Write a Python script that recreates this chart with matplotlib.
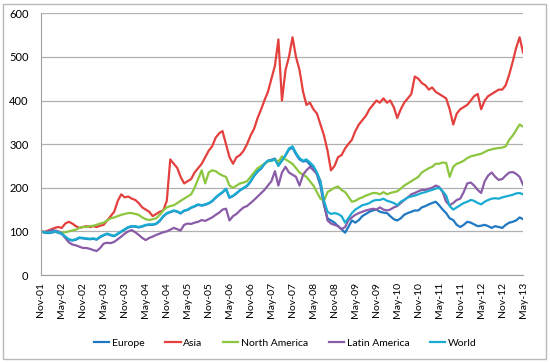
import matplotlib
matplotlib.use('Agg')
import matplotlib.pyplot as plt
import matplotlib.dates as mdates
from matplotlib.patches import Rectangle
import pandas as pd

# monthly index levels, Nov-01 .. May-13
months = pd.date_range('2001-11-01', periods=139, freq='MS')

europe = [100, 97, 96, 97, 99, 97, 94, 87, 81, 79, 81, 85,
          84, 83, 82, 83, 81, 87, 91, 94, 91, 89, 94, 99,
          104, 109, 111, 111, 109, 111, 114, 115, 115, 117, 124, 134,
          141, 144, 147, 145, 141, 147, 149, 154, 157, 161, 159, 161,
          164, 169, 177, 184, 189, 197, 177, 181, 187, 194, 199, 204,
          214, 227, 237, 244, 254, 262, 264, 267, 252, 263, 274, 288,
          292, 277, 265, 260, 262, 253, 247, 230, 205, 160, 130, 125,
          120, 112, 105, 97, 110, 125, 120, 126, 135, 140, 145, 148,
          150, 145, 143, 142, 135, 128, 125, 130, 138, 142, 145, 148,
          148, 155, 158, 162, 165, 168, 160, 150, 142, 130, 126, 115,
          110, 115, 122, 120, 116, 112, 113, 115, 112, 108, 112, 110,
          108, 115, 120, 122, 125, 132, 128]

asia = [100, 99, 102, 105, 108, 110, 108, 118, 122, 118, 112, 108,
        110, 112, 110, 112, 110, 113, 115, 125, 135, 145, 170, 185,
        178, 180, 175, 172, 165, 155, 150, 145, 135, 140, 145, 148,
        170, 265, 255, 245, 225, 210, 215, 220, 235, 245, 255, 270,
        285, 295, 315, 325, 330, 300, 270, 255, 270, 275, 285, 300,
        320, 335, 360, 380, 400, 420, 450, 480, 540, 400, 470, 500,
        545, 500, 470, 420, 390, 395, 380, 370, 345, 320, 285, 240,
        250, 270, 275, 290, 300, 310, 330, 345, 355, 365, 380, 390,
        400, 395, 405, 395, 400, 385, 360, 380, 395, 405, 415, 455,
        450, 440, 435, 425, 430, 420, 415, 410, 405, 380, 345, 370,
        380, 385, 390, 400, 410, 415, 380, 400, 410, 415, 420, 425,
        425, 435, 460, 490, 520, 545, 510]

north_america = [100, 98, 100, 102, 100, 98, 97, 98, 100, 102, 104, 108,
                 110, 110, 112, 113, 115, 118, 120, 125, 130, 132, 135, 138,
                 140, 142, 142, 140, 138, 132, 128, 126, 128, 130, 138, 148,
                 155, 158, 160, 165, 170, 175, 180, 185, 200, 220, 240, 210,
                 235, 240, 238, 232, 228, 225, 205, 200, 205, 210, 212, 215,
                 225, 235, 245, 250, 255, 260, 262, 265, 260, 272, 265, 260,
                 255, 245, 235, 230, 225, 215, 205, 190, 175, 170, 190, 195,
                 200, 203, 195, 190, 180, 168, 170, 175, 178, 182, 185, 188,
                 188, 185, 190, 185, 188, 190, 192, 198, 205, 210, 215, 220,
                 225, 235, 240, 245, 248, 255, 255, 258, 257, 225, 248, 255,
                 258, 262, 268, 272, 274, 276, 278, 282, 286, 288, 290, 291,
                 292, 295, 310, 320, 332, 345, 340]

latin_america = [100, 98, 100, 103, 102, 100, 95, 85, 75, 70, 68, 65,
                 62, 62, 60, 57, 55, 62, 72, 74, 73, 76, 82, 88,
                 95, 100, 103, 98, 92, 85, 80, 85, 88, 92, 95, 98,
                 100, 104, 108, 105, 102, 115, 118, 117, 120, 122, 126, 124,
                 128, 132, 138, 143, 150, 152, 125, 135, 140, 148, 155, 158,
                 165, 172, 180, 188, 195, 205, 215, 238, 205, 235, 248, 235,
                 230, 225, 205, 230, 240, 248, 240, 232, 215, 165, 125, 118,
                 115, 112, 105, 110, 125, 132, 138, 142, 145, 148, 150, 152,
                 150, 155, 150, 148, 150, 155, 158, 165, 172, 178, 185, 188,
                 192, 195, 195, 198, 200, 205, 202, 190, 168, 160, 165, 172,
                 175, 190, 210, 212, 205, 195, 188, 215, 228, 235, 225, 218,
                 220, 228, 235, 236, 232, 225, 207]

world = [100, 98, 97, 98, 100, 98, 95, 88, 82, 80, 82, 86,
         85, 84, 83, 84, 82, 88, 92, 95, 92, 90, 95, 100,
         105, 110, 112, 112, 110, 112, 115, 116, 116, 118, 125, 135,
         142, 145, 148, 146, 142, 148, 150, 155, 158, 162, 160, 162,
         165, 170, 178, 185, 190, 198, 178, 182, 188, 195, 200, 205,
         215, 228, 238, 245, 255, 262, 262, 265, 250, 262, 275, 290,
         295, 280, 268, 262, 265, 258, 250, 235, 215, 170, 145, 140,
         142, 140, 135, 120, 130, 142, 150, 155, 160, 162, 165, 170,
         172, 172, 175, 170, 168, 165, 160, 168, 172, 178, 180, 182,
         185, 188, 190, 193, 195, 198, 200, 192, 182, 158, 150, 155,
         160, 165, 168, 172, 170, 165, 162, 168, 172, 175, 176, 175,
         178, 180, 182, 184, 187, 188, 185]

series = [('Europe', europe, '#1f78c1'),
          ('Asia', asia, '#e4403d'),
          ('North America', north_america, '#8cc63f'),
          ('Latin America', latin_america, '#8a5ca8'),
          ('World', world, '#1aabd2')]

plt.rcParams['font.family'] = ['Lato', 'DejaVu Sans']

fig = plt.figure(figsize=(5.5, 3.63), dpi=100)
ax = fig.add_axes([0.0745, 0.2424, 0.8765, 0.721])

for name, vals, col in series:
    ax.plot(months, vals, color=col, lw=1.6, label=name)

ax.set_ylim(0, 600)
ax.set_yticks(range(0, 601, 100))
ax.set_xlim(months[0], months[-1])
ax.xaxis.set_major_locator(mdates.MonthLocator(bymonth=[5, 11]))
ax.xaxis.set_major_formatter(mdates.DateFormatter('%b-%y'))
ax.tick_params(axis='x', labelrotation=90, labelsize=7.5, length=0, pad=5)
ax.tick_params(axis='y', labelsize=8, length=0, pad=9)
ax.grid(axis='y', color='#b0b0b0', lw=0.9)
ax.set_axisbelow(True)
for s in ['top', 'right']:
    ax.spines[s].set_visible(False)
for s in ['left', 'bottom']:
    ax.spines[s].set_color('#a0a0a0')

fig.legend(loc='center', bbox_to_anchor=(0.519, 0.055), ncol=5, frameon=False,
           fontsize=7.5, handlelength=1.45, handletextpad=0.25, columnspacing=2.0)

fig.patches.append(Rectangle((0.006, 0.01), 0.987, 0.98, transform=fig.transFigure,
                             fill=False, edgecolor='#b8b8b8', lw=1))

fig.savefig('out.png', dpi=100)
